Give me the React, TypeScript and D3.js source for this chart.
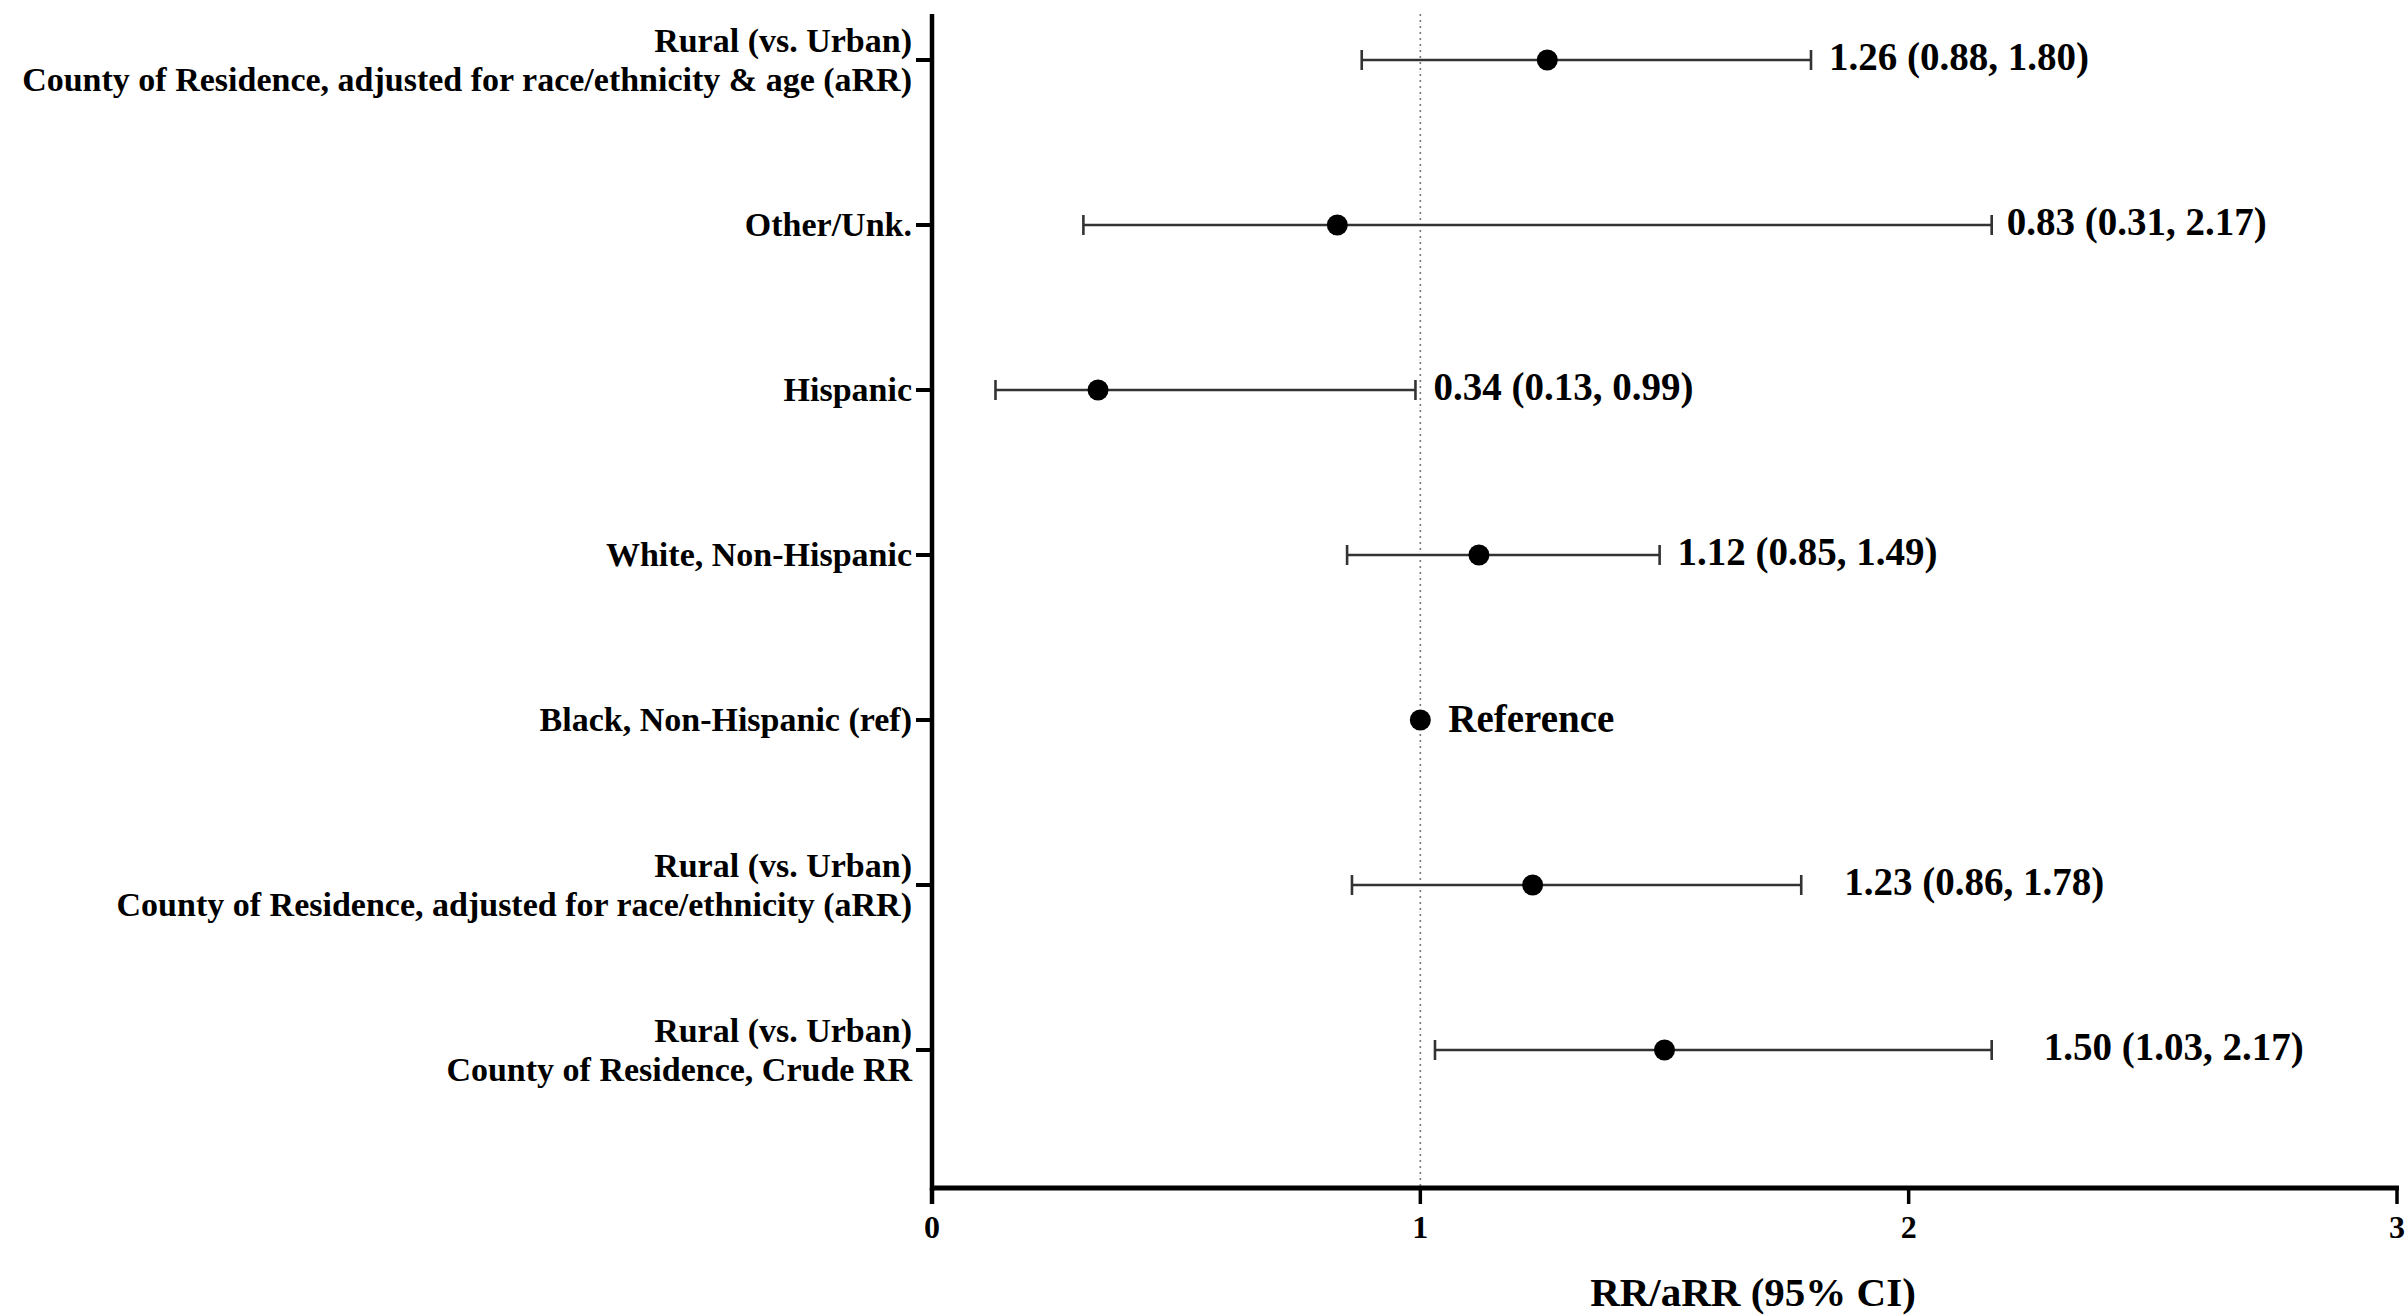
import React, { useEffect, useRef } from 'react';
import * as d3 from 'd3';

// rows, top to bottom
const categories = [
  'Rural (vs. Urban)\nCounty of Residence, adjusted for race/ethnicity & age (aRR)',
  'Other/Unk.',
  'Hispanic',
  'White, Non-Hispanic',
  'Black, Non-Hispanic (ref)',
  'Rural (vs. Urban)\nCounty of Residence, adjusted for race/ethnicity (aRR)',
  'Rural (vs. Urban)\nCounty of Residence, Crude RR',
];
const estimates = [1.26, 0.83, 0.34, 1.12, 1.0, 1.23, 1.5];
const lower = [0.88, 0.31, 0.13, 0.85, null, 0.86, 1.03];
const upper = [1.8, 2.17, 0.99, 1.49, null, 1.78, 2.17];
const valueLabels = [
  '1.26 (0.88, 1.80)',
  '0.83 (0.31, 2.17)',
  '0.34 (0.13, 0.99)',
  '1.12 (0.85, 1.49)',
  'Reference',
  '1.23 (0.86, 1.78)',
  '1.50 (1.03, 2.17)',
];
const xTicks = [0, 1, 2, 3];
const xTitle = 'RR/aRR (95% CI)';

const WIDTH = 2407;
const HEIGHT = 1315;
const FONT = '"Liberation Serif", "Times New Roman", serif';

// gap between the end of each bar and its label (px)
const labelGap = [18, 15, 18, 18, 28, 43, 52];

export default function App() {
  const ref = useRef<SVGSVGElement | null>(null);

  useEffect(() => {
    const svg = d3.select(ref.current);
    svg.selectAll('*').remove();

    const axisTop = 14;
    const axisY = 1188;
    const left = 932;

    const x = d3.scaleLinear().domain([0, 3]).range([left, 2397]);
    const y = d3.scalePoint<string>().domain(categories).range([60, 1050]);

    const rows = categories.map((c, i) => ({
      cat: c,
      est: estimates[i],
      lo: lower[i],
      hi: upper[i],
      label: valueLabels[i],
      gap: labelGap[i],
    }));

    // dotted reference line at 1
    svg.append('line')
      .attr('x1', x(1)).attr('x2', x(1))
      .attr('y1', axisTop).attr('y2', axisY)
      .attr('stroke', '#777')
      .attr('stroke-width', 1.6)
      .attr('stroke-dasharray', '2,4');

    // error bars
    const bars = rows.filter((d) => d.lo != null);
    const g = svg.append('g');
    g.selectAll('line.ci')
      .data(bars)
      .enter().append('line')
      .attr('class', 'ci')
      .attr('x1', (d) => x(d.lo as number))
      .attr('x2', (d) => x(d.hi as number))
      .attr('y1', (d) => y(d.cat) as number)
      .attr('y2', (d) => y(d.cat) as number)
      .attr('stroke', '#333')
      .attr('stroke-width', 2.6);

    ['lo', 'hi'].forEach((k) => {
      g.selectAll(`line.cap-${k}`)
        .data(bars)
        .enter().append('line')
        .attr('x1', (d: any) => x(d[k]))
        .attr('x2', (d: any) => x(d[k]))
        .attr('y1', (d) => (y(d.cat) as number) - 10)
        .attr('y2', (d) => (y(d.cat) as number) + 10)
        .attr('stroke', '#333')
        .attr('stroke-width', 2.6);
    });

    // points
    g.selectAll('circle')
      .data(rows)
      .enter().append('circle')
      .attr('cx', (d) => x(d.est))
      .attr('cy', (d) => y(d.cat) as number)
      .attr('r', 10.5)
      .attr('fill', '#000');

    // value labels
    g.selectAll('text.val')
      .data(rows)
      .enter().append('text')
      .attr('class', 'val')
      .attr('x', (d) => (d.hi != null ? x(d.hi) : x(d.est)) + d.gap)
      .attr('y', (d) => (y(d.cat) as number) + (d.hi != null ? 10 : 12))
      .attr('font-family', FONT)
      .attr('font-weight', 'bold')
      .attr('font-size', 39)
      .attr('fill', '#000')
      .text((d) => d.label);

    // y axis
    svg.append('line')
      .attr('x1', left).attr('x2', left)
      .attr('y1', axisTop).attr('y2', axisY + 2.5)
      .attr('stroke', '#000').attr('stroke-width', 4.5);

    const yAxis = svg.append('g');
    categories.forEach((c) => {
      const cy = y(c) as number;
      yAxis.append('line')
        .attr('x1', left - 16).attr('x2', left)
        .attr('y1', cy).attr('y2', cy)
        .attr('stroke', '#000').attr('stroke-width', 4);
      const lines = c.split('\n');
      const t = yAxis.append('text')
        .attr('text-anchor', 'end')
        .attr('font-family', FONT)
        .attr('font-weight', 'bold')
        .attr('font-size', 34)
        .attr('fill', '#000');
      lines.forEach((ln, j) => {
        const off = lines.length === 1 ? 0 : (j === 0 ? -19.5 : 19.5);
        t.append('tspan')
          .attr('x', left - 20)
          .attr('y', cy + off + 11)
          .text(ln);
      });
    });

    // x axis
    svg.append('line')
      .attr('x1', left - 2).attr('x2', x(3) + 2)
      .attr('y1', axisY).attr('y2', axisY)
      .attr('stroke', '#000').attr('stroke-width', 5);

    const xAxis = svg.append('g');
    xTicks.forEach((t) => {
      xAxis.append('line')
        .attr('x1', x(t)).attr('x2', x(t))
        .attr('y1', axisY).attr('y2', axisY + 16)
        .attr('stroke', '#000').attr('stroke-width', t === 0 ? 4.5 : 3.5);
      xAxis.append('text')
        .attr('x', x(t))
        .attr('y', 1238)
        .attr('text-anchor', 'middle')
        .attr('font-family', FONT)
        .attr('font-weight', 'bold')
        .attr('font-size', 32)
        .attr('fill', '#000')
        .text(String(t));
    });

    svg.append('text')
      .attr('x', 1753)
      .attr('y', 1306)
      .attr('text-anchor', 'middle')
      .attr('font-family', FONT)
      .attr('font-weight', 'bold')
      .attr('font-size', 41)
      .attr('fill', '#000')
      .text(xTitle);
  }, []);

  return (
    <svg
      ref={ref}
      width={WIDTH}
      height={HEIGHT}
      style={{ position: 'absolute', left: 0, top: 0, background: '#fff' }}
    />
  );
}
